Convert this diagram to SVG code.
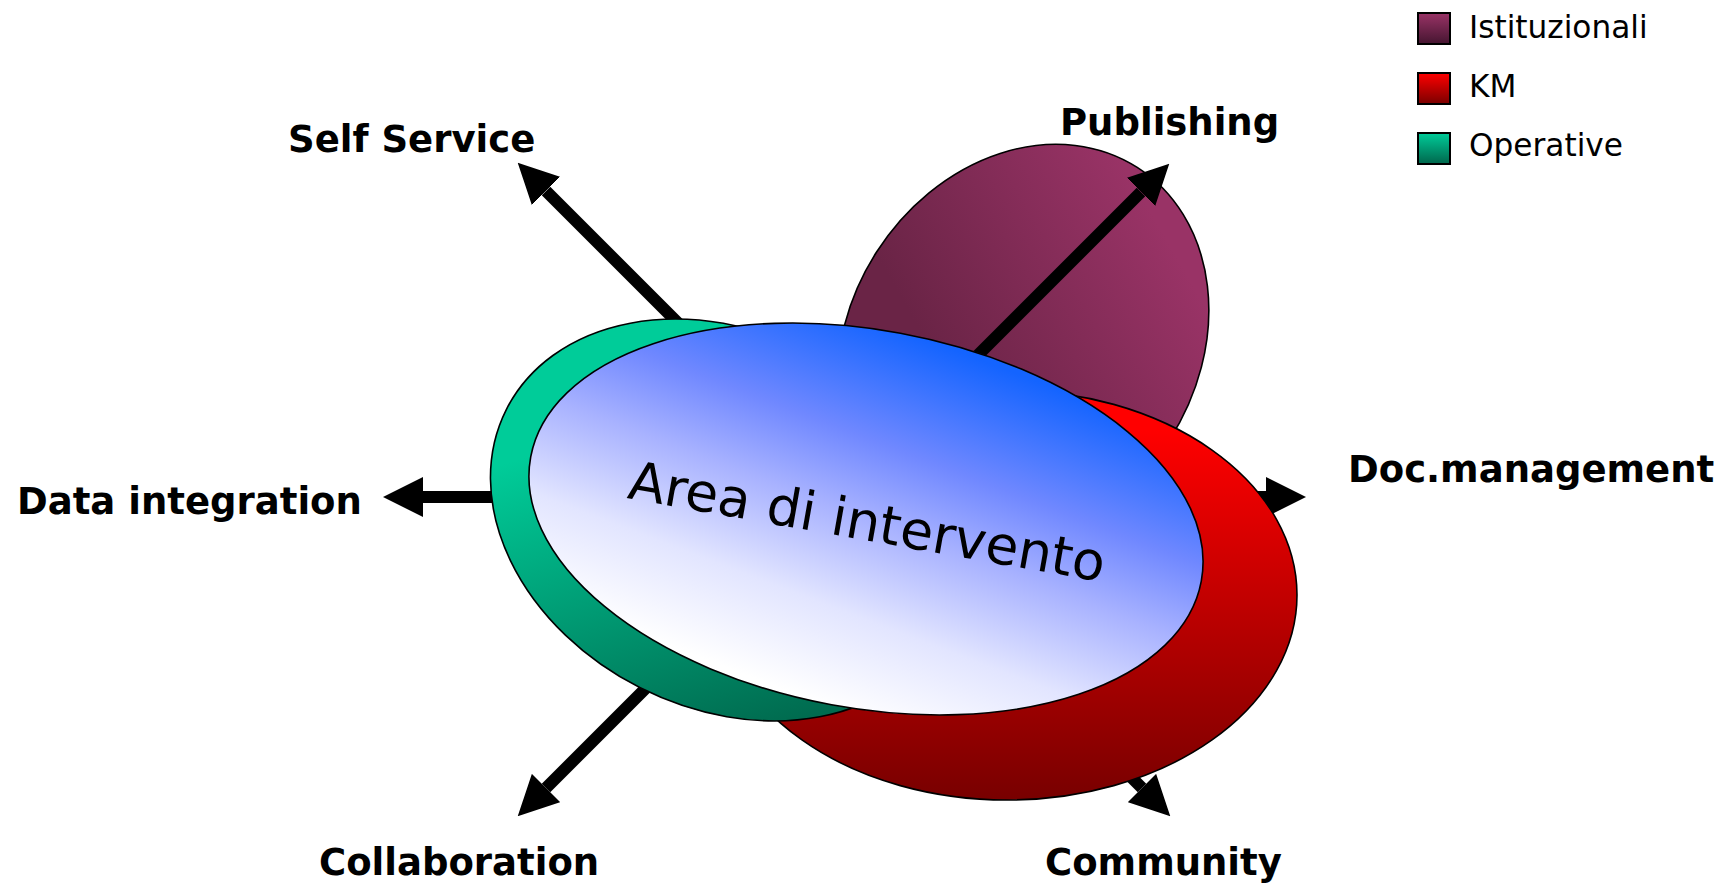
<svg xmlns="http://www.w3.org/2000/svg" width="1722" height="883" viewBox="0 0 1722 883">
<style>
.lbl{font-family:"DejaVu Sans","Liberation Sans",sans-serif;font-weight:bold;font-size:37px;fill:#000}
.leg{font-family:"DejaVu Sans","Liberation Sans",sans-serif;font-size:31.2px;fill:#000}
.shape{stroke:#000;stroke-width:1.6}
.sq{stroke:#000;stroke-width:2}
.arr{stroke:#000;stroke-width:12;fill:none;marker-end:url(#head)}
</style>
<defs>
<marker id="head" markerUnits="userSpaceOnUse" markerWidth="40" markerHeight="40" viewBox="0 0 40 40" refX="0" refY="20" orient="auto">
<path d="M0,0 L40,20 L0,40 Z" fill="#000"/>
</marker>
<linearGradient id="gPurple" gradientUnits="userSpaceOnUse" x1="1070" y1="170" x2="950" y2="400">
<stop offset="0" stop-color="#993366"/><stop offset="1" stop-color="#6a2446"/>
</linearGradient>
<linearGradient id="gRed" gradientUnits="userSpaceOnUse" x1="0" y1="430" x2="0" y2="800">
<stop offset="0" stop-color="#ff0000"/><stop offset="1" stop-color="#780000"/>
</linearGradient>
<linearGradient id="gGreen" gradientUnits="userSpaceOnUse" x1="600" y1="480" x2="820" y2="720">
<stop offset="0" stop-color="#00cc99"/><stop offset="1" stop-color="#006b4f"/>
</linearGradient>
<linearGradient id="gBlue" gradientUnits="userSpaceOnUse" x1="902" y1="333" x2="834" y2="705">
<stop offset="0" stop-color="#1464ff"/><stop offset="0.3" stop-color="#7088ff"/><stop offset="0.5" stop-color="#a8b2ff"/><stop offset="0.75" stop-color="#e2e5ff"/><stop offset="1" stop-color="#ffffff"/>
</linearGradient>
<linearGradient id="lPurple" x1="0" y1="0" x2="0" y2="1">
<stop offset="0" stop-color="#993366"/><stop offset="1" stop-color="#451530"/>
</linearGradient>
<linearGradient id="lRed" x1="0" y1="0" x2="0" y2="1">
<stop offset="0" stop-color="#ff0000"/><stop offset="1" stop-color="#7a0000"/>
</linearGradient>
<linearGradient id="lGreen" x1="0" y1="0" x2="0" y2="1">
<stop offset="0" stop-color="#00cc99"/><stop offset="1" stop-color="#00664c"/>
</linearGradient>
</defs>

<g id="istituzionali">
<ellipse class="shape" cx="1023" cy="346" rx="174" ry="212" transform="rotate(32.6 1023 346)" fill="url(#gPurple)"/>
</g>

<g id="connectors">
<line class="arr" x1="846" y1="491" x2="546" y2="191"/>
<line class="arr" x1="836" y1="497" x2="1141" y2="192"/>
<line class="arr" x1="845" y1="497" x2="1266" y2="497"/>
<line class="arr" x1="845" y1="497" x2="423" y2="497"/>
<line class="arr" x1="837" y1="497" x2="546" y2="788"/>
<line class="arr" x1="851" y1="497" x2="1142" y2="788"/>
</g>

<g id="km">
<ellipse class="shape" cx="1007" cy="595" rx="290" ry="205" fill="url(#gRed)"/>
</g>

<g id="operative">
<ellipse class="shape" cx="725" cy="520" rx="245" ry="188" transform="rotate(26.8 725 520)" fill="url(#gGreen)"/>
</g>

<g id="area">
<ellipse class="shape" cx="866" cy="519" rx="341" ry="189" transform="rotate(10.5 866 519)" fill="url(#gBlue)"/>
<text x="864" y="540" text-anchor="middle" transform="rotate(10 864 540)" style="font-family:'DejaVu Sans','Liberation Sans',sans-serif;font-size:53.5px;fill:#000">Area di intervento</text>
</g>

<g id="labels">
<text class="lbl" x="288" y="151.5">Self Service</text>
<text class="lbl" x="1060" y="135">Publishing</text>
<text class="lbl" x="1348" y="482">Doc.management</text>
<text class="lbl" x="17" y="514">Data integration</text>
<text class="lbl" x="319" y="875">Collaboration</text>
<text class="lbl" x="1045" y="875">Community</text>
</g>

<g id="legend">
<g id="leg-istituzionali">
<rect class="sq" x="1418" y="13" width="32" height="31" fill="url(#lPurple)"/>
<text class="leg" x="1469" y="38">Istituzionali</text>
</g>
<g id="leg-km">
<rect class="sq" x="1418" y="73" width="32" height="31" fill="url(#lRed)"/>
<text class="leg" x="1469" y="97">KM</text>
</g>
<g id="leg-operative">
<rect class="sq" x="1418" y="133" width="32" height="31" fill="url(#lGreen)"/>
<text class="leg" x="1469" y="156">Operative</text>
</g>
</g>
</svg>
